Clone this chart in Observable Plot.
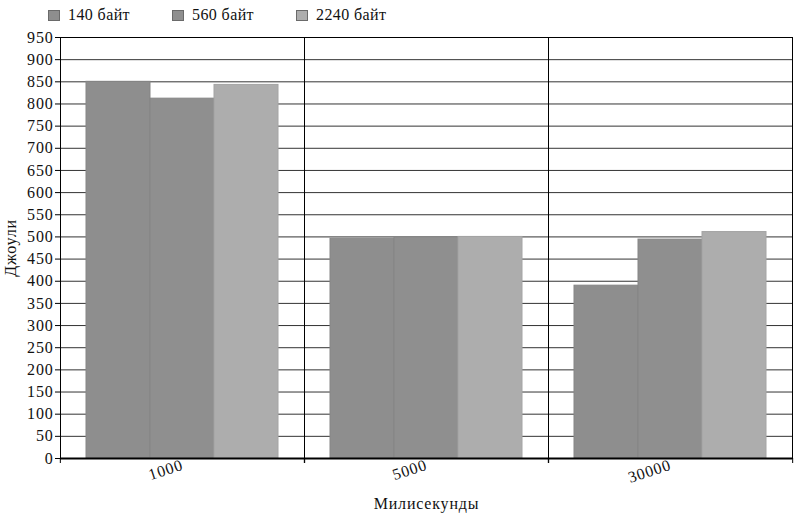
<!DOCTYPE html>
<html>
<head>
<meta charset="utf-8">
<script src="https://cdn.jsdelivr.net/npm/d3@7"></script>
<script src="https://cdn.jsdelivr.net/npm/@observablehq/plot@0.6"></script>
<style>
  body { margin: 0; background: #fff; font-family: "Liberation Serif", "Times New Roman", Times, serif; }
  #legend { height: 30px; display: flex; align-items: center; padding-left: 48px; gap: 42px; font-size: 16px; letter-spacing: 0.4px; color: #111; }
  .item { display: flex; align-items: center; gap: 8px; }
  .sw { width: 12px; height: 11px; box-sizing: border-box; border: 1px solid #6a6a6a; }
  svg text { letter-spacing: 0.8px; font-family: "Liberation Serif", "Times New Roman", Times, serif; }
</style>
</head>
<body>
<div id="legend"></div>
<div id="chart"></div>
<script>
const categories = ["1000", "5000", "30000"];
const series = ["140 байт", "560 байт", "2240 байт"];
const values140 = [850, 496, 390];
const values560 = [812, 499, 494];
const values2240 = [843, 500, 511];
const yTicks = [0, 50, 100, 150, 200, 250, 300, 350, 400, 450, 500, 550, 600, 650, 700, 750, 800, 850, 900, 950];
const seriesColors = ["#8e8e8e", "#8f8f8f", "#adadad"];
const seriesStrokes = ["#858585", "#868686", "#a4a4a4"];

const valuesBySeries = [values140, values560, values2240];
const rows = [];
categories.forEach((c, ci) => {
  series.forEach((s, si) => {
    rows.push({cat: c, series: s, si, value: valuesBySeries[si][ci]});
  });
});

// legend
const legend = document.getElementById("legend");
series.forEach((s, i) => {
  const it = document.createElement("div");
  it.className = "item";
  const sw = document.createElement("div");
  sw.className = "sw";
  sw.style.background = seriesColors[i];
  const t = document.createElement("span");
  t.textContent = s;
  it.appendChild(sw); it.appendChild(t);
  legend.appendChild(it);
});

const W = 798, ML = 59, MR = 6;
const bw = (W - ML - MR) / categories.length;
const FONT = "'Liberation Serif', 'Times New Roman', Times, serif";

const chart = Plot.plot({
  width: W,
  height: 484,
  marginTop: 7,
  marginBottom: 56,
  marginLeft: ML,
  marginRight: MR,
  style: {fontFamily: FONT, fontSize: "16px", color: "#111", background: "#fff"},
  fx: {domain: categories, padding: 0},
  x: {domain: series, paddingInner: 0, paddingOuter: 0.38, axis: null},
  y: {domain: [0, 950]},
  marks: [
    Plot.gridY(yTicks, {stroke: "#333", strokeOpacity: 1}),
    Plot.barY(rows, {
      fx: "cat", x: "series", y: "value",
      fill: {value: d => seriesColors[d.si], scale: null},
      stroke: {value: d => seriesStrokes[d.si], scale: null},
      strokeWidth: 1
    }),
    Plot.frame({stroke: "#000"}),
    Plot.ruleY([0], {stroke: "#000", strokeWidth: 2}),
    Plot.axisY(yTicks, {tickSize: 5, tickPadding: 2, label: "Джоули", labelAnchor: "center", labelArrow: "none", labelOffset: 56, stroke: "#000"}),
    Plot.axisFx({anchor: "bottom", fill: "none", tickSize: 5, dx: -bw / 2, label: null, stroke: "#000"}),
    Plot.axisFx(["30000"], {anchor: "bottom", fill: "none", tickSize: 5, dx: bw / 2, label: null, stroke: "#000"}),
    Plot.axisFx({anchor: "bottom", tickSize: 0, tickPadding: 6, tickRotate: -18, label: "Милисекунды", labelAnchor: "center", labelArrow: "none", labelOffset: 50})
  ]
});
document.getElementById("chart").appendChild(chart);
</script>
</body>
</html>
